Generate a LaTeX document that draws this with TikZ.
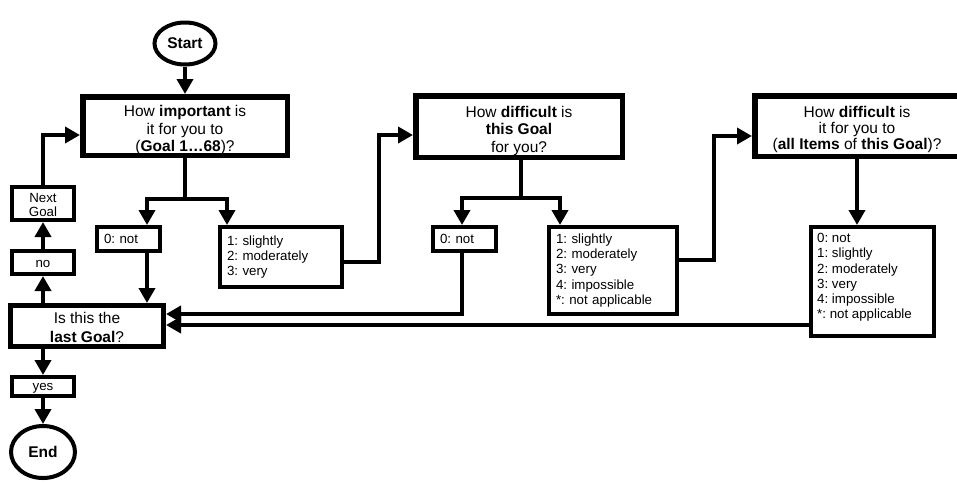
\documentclass[tikz,border=0pt]{standalone}
\usepackage{fontspec}
\setmainfont{Liberation Sans}
\AtBeginDocument{\frenchspacing}
\usetikzlibrary{arrows.meta,shapes.geometric}
\begin{document}
\begin{tikzpicture}[x=1pt,y=-1pt,
  line join=miter,
  mainbox/.style={draw, line width=5.5pt, inner sep=0pt},
  qtext/.style={inner sep=0pt, align=center,
    font=\fontsize{15.5}{17.5}\selectfont},
  smallbox/.style={draw, line width=4pt, inner sep=0pt, align=center,
    font=\fontsize{13.3}{14.5}\selectfont},
  ansbox/.style={draw, line width=4pt, inner xsep=7pt, inner ysep=0pt, align=left,
    anchor=north west, font=\fontsize{13.3}{15.3}\selectfont},
  anstext/.style={inner sep=0pt, align=left, anchor=north west,
    font=\fontsize{13.3}{15.3}\selectfont},
  term/.style={draw, ellipse, line width=4pt, inner sep=0pt,
    font=\bfseries\fontsize{15.5}{18.5}\selectfont},
  conn/.style={line width=3.7pt},
  arr/.style={conn, -{Triangle[length=15pt,width=16pt]}}
]
\useasboundingbox (0,0) rectangle (957,483);
\fill[white] (0,0) rectangle (957,483);
\begin{scope}
\clip (0,0) rectangle (957,483);

% terminals
\node[term, minimum width=61pt, minimum height=42pt] (start) at (185,43.5) {Start};
\node[term, minimum width=64pt, minimum height=52pt] (end) at (43,452) {End};

% questions
\node[mainbox, minimum width=204.5pt, minimum height=58.5pt] (q1) at (185,126) {};
\node[qtext, font=\fontsize{15.5}{17.5}\selectfont] (q1t) at ([yshift=-4pt]q1.center)
  {How \textbf{important} is\\it for you to\\(\textbf{Goal 1…68})?};
\node[mainbox, minimum width=206.5pt, minimum height=61.5pt] (q2) at (519,126.5) {};
\node[qtext] (q2t) at ([yshift=-4pt]q2.center)
  {How \textbf{difficult} is\\\textbf{this Goal}\\for you?};
\node[mainbox, minimum width=204.5pt, minimum height=60.5pt] (q3) at (857,126) {};
\node[qtext, font=\fontsize{15.5}{16}\selectfont] (q3t) at ([yshift=-3pt]q3.center)
  {How \textbf{difficult} is\\it for you to\\(\textbf{all Items} of \textbf{this Goal})?};
\node[mainbox, line width=5pt, minimum width=153pt, minimum height=41pt] (is) at (87,326) {};
\node[qtext, font=\fontsize{15.5}{19}\selectfont] (ist) at ([yshift=-1pt]is.center)
  {Is this the\\\textbf{last Goal}?};

% left column
\node[smallbox, minimum width=62pt, minimum height=33pt] (next) at (43,203.5) {};
\node[smallbox, draw=none] (nextt) at ([yshift=-1.5pt]next.center) {Next\\Goal};
\node[smallbox, minimum width=62pt, minimum height=23pt] (no) at (43,262.5) {};
\node[smallbox, draw=none] (not) at ([yshift=-1.5pt]no.center) {no};
\node[smallbox, minimum width=62pt, minimum height=19pt] (yes) at (43,386.5) {};
\node[smallbox, draw=none] (yest) at ([yshift=-1.5pt]yes.center) {yes};

% answers
\node[ansbox, text width=49pt, minimum height=24pt] (a1n) at (95,225) {0: not};
\node[ansbox, text width=108pt, minimum height=60pt] (a1) at (218,225)
  {1: slightly\\2: moderately\\3: very};
\node[ansbox, text width=49pt, minimum height=24pt] (a2n) at (431,225) {0: not};
\node[ansbox, text width=114pt, minimum height=87pt] (a2) at (547,225)
  {1: slightly\\2: moderately\\3: very\\4: impossible\\{*}: not applicable};
\node[ansbox, text width=109pt, minimum height=109pt] (a3) at (809,225) {};
\node[anstext] (a3t) at (817,233)
  {0: not\\1: slightly\\2: moderately\\3: very\\4: impossible\\{*}: not applicable};

% helper coordinates
\coordinate (x1) at (147,0);
\coordinate (x2) at (227,0);
\coordinate (x3) at (462,0);
\coordinate (x4) at (560,0);
\coordinate (x5) at (857,0);
\coordinate (j1) at (185,199);
\coordinate (j2) at (521,198);
\coordinate (k1) at (379,135);
\coordinate (k2) at (714,136);
\coordinate (y1) at (0,262);
\coordinate (y2) at (0,260);
\coordinate (y3) at (0,314);
\coordinate (y4) at (0,325);
\coordinate (y5) at (0,135);

% connectors
\draw[arr] (start) -- (q1);
\draw[conn] (q1.south) -- (j1);
\draw[arr] (j1) -| (x1 |- a1n.north);
\draw[arr] (j1) -| (x2 |- a1.north);
\draw[arr] (x1 |- a1n.south) -- (x1 |- is.north);
\draw[arr] (a1.east |- y1) -| (k1) -- (k1 -| q2.west);

\draw[conn] (j2 |- q2.south) -- (j2);
\draw[arr] (j2) -| (x3 |- a2n.north);
\draw[arr] (j2) -| (x4 |- a2.north);
\draw[arr] (x3 |- a2n.south) |- (is.east |- y3);
\draw[arr] (a2.east |- y2) -| (k2) -- (k2 -| q3.west);

\draw[arr] (x5 |- q3.south) -- (x5 |- a3.north);
\draw[arr] (a3.west |- y4) -- (is.east |- y4);

\draw[arr] (no.south |- is.north) -- (no.south);
\draw[arr] (no.north) -- (next.south);
\draw[arr] (next.north) |- (q1.west |- y5);
\draw[arr] (yes.north |- is.south) -- (yes.north);
\draw[arr] (yes.south) -- (end.north);
\end{scope}
\end{tikzpicture}
\end{document}
